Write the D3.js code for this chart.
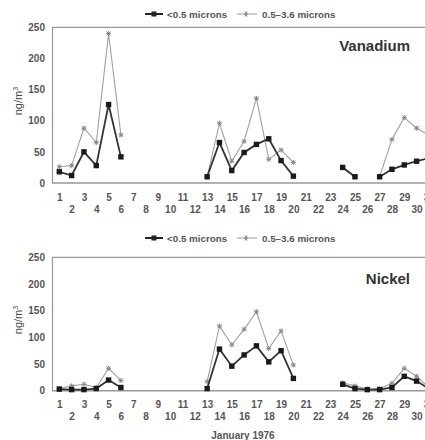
<!DOCTYPE html>
<html>
<head>
<meta charset="utf-8">
<script src="https://cdn.jsdelivr.net/npm/d3@7"></script>
<style>
  body { margin: 0; background: #fff; }
  svg { font-family: "Liberation Sans", Arial, sans-serif; }
</style>
</head>
<body>
<script>
// days of January 1976
const days = d3.range(1, 32);

// Vanadium, ng/m3 (null = no sample)
const vanFine = [18, 12, 50, 28, 126, 42, null, null, null, null, null, null,
  10, 65, 20, 49, 62, 71, 36, 11, null, null, null, 25, 10, null,
  10, 22, 29, 35, 40];
const vanCoarse = [26, 28, 88, 65, 240, 77, null, null, null, null, null, null,
  10, 96, 35, 67, 136, 38, 53, 33, null, null, null, 25, 10, null,
  10, 70, 105, 88, 77];

// Nickel, ng/m3
const niFine = [3, 2, 2, 4, 20, 6, null, null, null, null, null, null,
  4, 78, 46, 67, 84, 54, 75, 23, null, null, null, 12, 4, 2,
  2, 6, 27, 18, 4];
const niCoarse = [4, 9, 12, 6, 42, 19, null, null, null, null, null, null,
  17, 121, 86, 115, 148, 79, 112, 48, null, null, null, 15, 9, 3,
  4, 14, 42, 27, 6];

const yTicks = [0, 50, 100, 150, 200, 250];
const legendLabels = ["<0.5 microns", "0.5\u20133.6 microns"];

const W = 425, H = 440;
const svg = d3.select("body").append("svg")
    .attr("width", W)
    .attr("height", H);

const x = d3.scaleLinear().domain([1, 31]).range([59.3, 428.9]);
const font = "Liberation Sans, Arial, sans-serif";

function panel(title, fine, coarse, top, bottom, legendY, titleY, showXTitle) {
    const g = svg.append("g");
    const y = d3.scaleLinear().domain([0, 250]).range([bottom, top]);

    // legend
    const lg = g.append("g").attr("transform", `translate(0,${legendY})`);
    lg.append("line").attr("x1", 145).attr("x2", 163).attr("y1", 0).attr("y2", 0)
        .attr("stroke", "#222").attr("stroke-width", 2);
    lg.append("rect").attr("x", 151.5).attr("y", -2.5).attr("width", 5).attr("height", 5).attr("fill", "#222");
    lg.append("text").attr("x", 167).attr("y", 3.5).attr("font-size", 9.8).attr("font-weight", "bold")
        .attr("fill", "#555").text(legendLabels[0]);
    lg.append("line").attr("x1", 237).attr("x2", 257).attr("y1", 0).attr("y2", 0)
        .attr("stroke", "#999").attr("stroke-width", 1);
    lg.append("path").attr("d", "M245,-2.5L247,2.5M245,2.5L247,-2.5M244,0L248,0")
        .attr("stroke", "#888").attr("stroke-width", 1);
    lg.append("text").attr("x", 262).attr("y", 3.5).attr("font-size", 9.8).attr("font-weight", "bold")
        .attr("fill", "#555").text(legendLabels[1]);

    // frame
    g.append("line").attr("x1", 52).attr("x2", W).attr("y1", top).attr("y2", top)
        .attr("stroke", "#999").attr("stroke-width", 1.2);

    // y axis
    const ya = g.append("g").attr("transform", "translate(52,0)")
        .call(d3.axisLeft(y).tickValues(yTicks).tickSize(0).tickPadding(7));
    ya.select(".domain").attr("stroke", "#999").attr("stroke-width", 1.2);
    ya.selectAll("text").attr("font-size", 10).attr("font-weight", "bold").attr("fill", "#555")
        .attr("font-family", font);

    // x axis, staggered labels
    const xa = g.append("g").attr("transform", `translate(0,${bottom})`)
        .call(d3.axisBottom(x).tickValues(days).tickSize(0).tickPadding(8).tickFormat(d3.format("d")));
    xa.select(".domain").attr("stroke", "#999").attr("stroke-width", 1.5)
        .attr("d", `M52,0H${W}`);
    xa.selectAll("text").attr("font-size", 10).attr("font-weight", "bold").attr("fill", "#555")
        .attr("font-family", font)
        .attr("y", d => d % 2 ? 10.5 : 22.5);

    // y label
    g.append("text")
        .attr("transform", `translate(22,${(top + bottom) / 2 - 4}) rotate(-90)`)
        .attr("text-anchor", "middle").attr("font-size", 11).attr("fill", "#444")
        .html('ng/m<tspan dy="-4" font-size="7">3</tspan>');

    // title
    g.append("text").attr("x", 410).attr("y", titleY).attr("text-anchor", "end")
        .attr("font-size", 15).attr("font-weight", "bold").attr("fill", "#333").text(title);

    const line = d3.line()
        .defined(d => d.v != null)
        .x(d => x(d.day)).y(d => y(d.v));
    const cData = days.map((d, i) => ({ day: d, v: coarse[i] }));
    const fData = days.map((d, i) => ({ day: d, v: fine[i] }));

    g.append("path").datum(cData).attr("d", line)
        .attr("fill", "none").attr("stroke", "#a0a0a0").attr("stroke-width", 1.1);
    g.selectAll(".cm").data(cData.filter(d => d.v != null)).join("path")
        .attr("transform", d => `translate(${x(d.day)},${y(d.v)})`)
        .attr("d", "M-2,-2L2,2M-2,2L2,-2M-2.5,0L2.5,0M0,-2.5L0,2.5")
        .attr("stroke", "#888").attr("stroke-width", 1);

    g.append("path").datum(fData).attr("d", line)
        .attr("fill", "none").attr("stroke", "#333").attr("stroke-width", 1.8);
    g.selectAll(".fm").data(fData.filter(d => d.v != null)).join("rect")
        .attr("x", d => x(d.day) - 2.7).attr("y", d => y(d.v) - 2.7)
        .attr("width", 5.4).attr("height", 5.4).attr("fill", "#1a1a1a");

    if (showXTitle) {
        g.append("text").attr("x", 243).attr("y", bottom + 48).attr("text-anchor", "middle")
            .attr("font-size", 10).attr("font-weight", "bold").attr("fill", "#555").text("January 1976");
    }
}

panel("Vanadium", vanFine, vanCoarse, 27.3, 183, 14, 51, false);
panel("Nickel", niFine, niCoarse, 257.3, 390.7, 238, 284, true);
</script>
</body>
</html>
